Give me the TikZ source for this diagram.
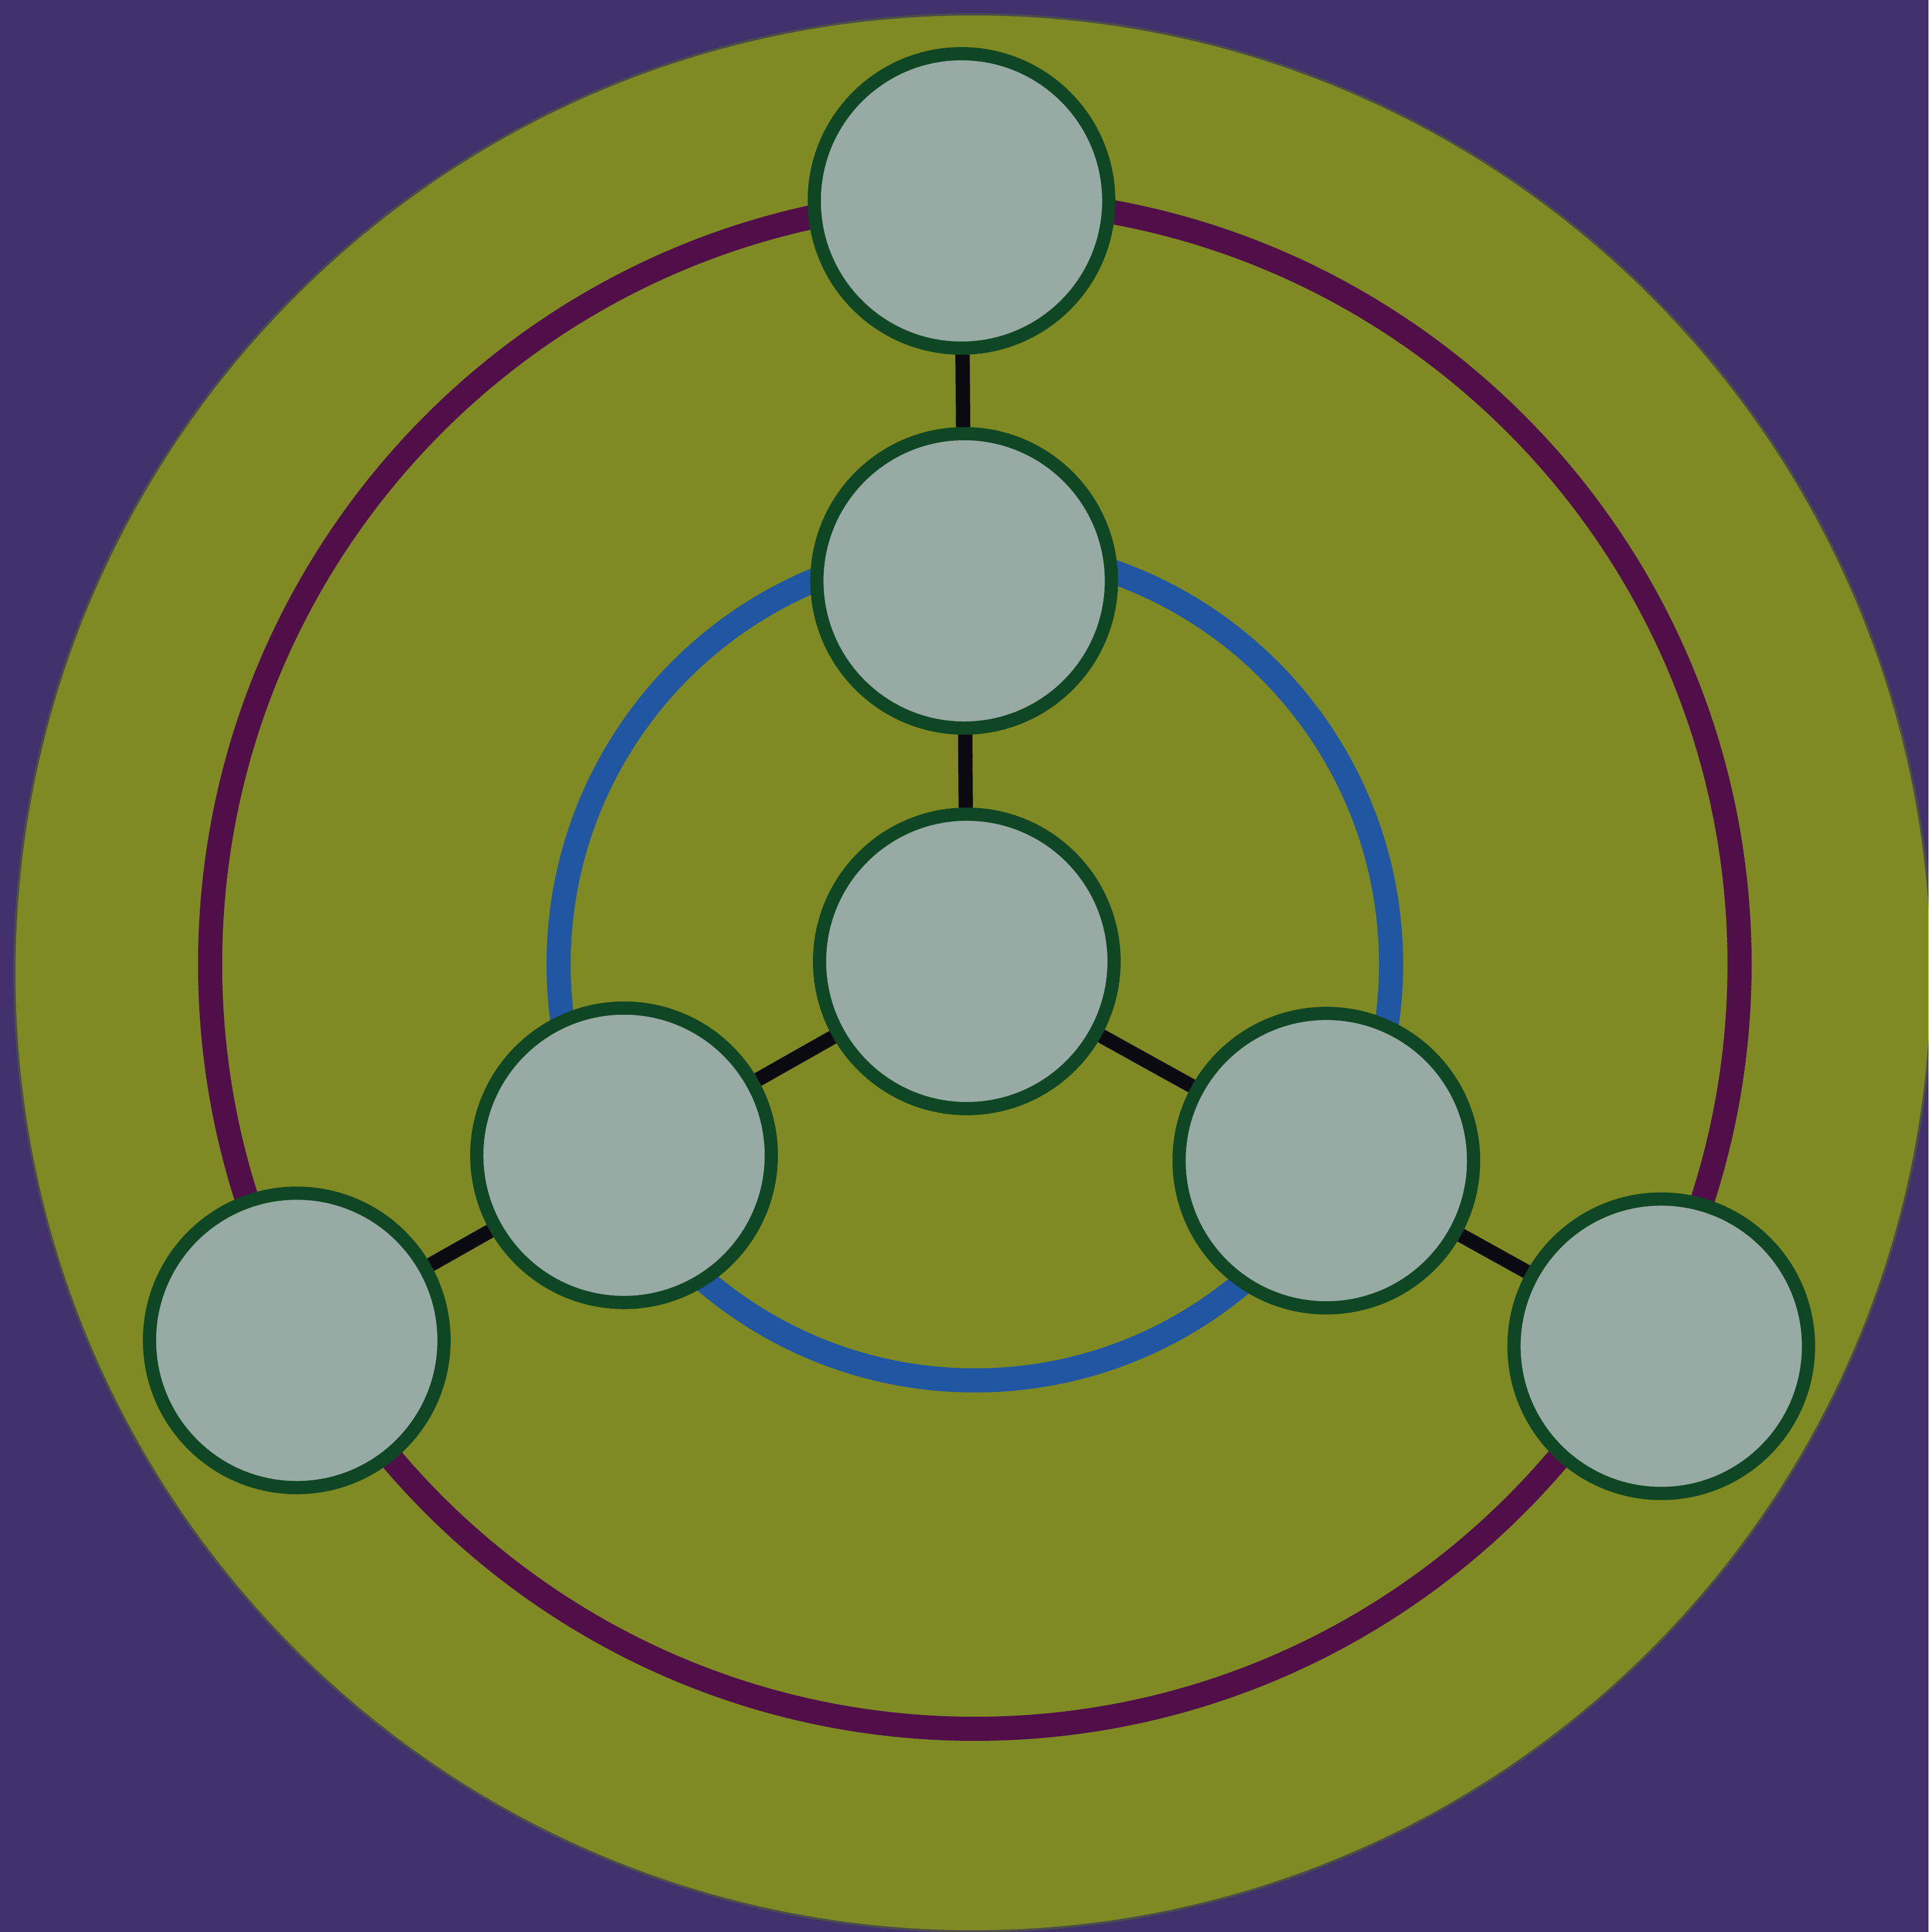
\documentclass[tikz,border=0pt]{standalone}
\usetikzlibrary{positioning}
\usetikzlibrary{calc}

\definecolor{bgpurple}{HTML}{40306C}
\definecolor{diskolive}{HTML}{808A22}
\definecolor{ringpurple}{HTML}{500F48}
\definecolor{ringblue}{HTML}{2156A2}
\definecolor{discgray}{HTML}{98AAA4}
\definecolor{discgreen}{HTML}{0F4724}
\definecolor{bondblack}{HTML}{0A0A10}

\begin{document}
\begin{tikzpicture}[disc/.style={circle, draw=discgreen, fill=discgray, line width=0.23cm, minimum size=5.13cm, inner sep=0pt},
    bond/.style={draw=bondblack, line width=0.25cm}]

      % Canvas
      \useasboundingbox (0,0) rectangle (33.59,33.66);
      \clip (0,0) rectangle (33.59,33.66);
      \fill[bgpurple] (0,0) rectangle (33.59,33.66);

      % Big disk
      \filldraw[fill=diskolive, draw=black!70, line width=0.04cm] (16.95,16.71) circle (16.70);

      % Common centre of the two rings
      \coordinate (o) at (16.98,16.86);
      \draw[ringpurple, line width=0.42cm] (o) circle (13.32);
      \draw[ringblue, line width=0.42cm] (o) circle (7.25);

      % Centre node
      \node[disc] (hub) at (16.84,16.91) {};

      % Three branches: inner node m\i and outer node e\i
      \foreach \i/\a/\r/\R in {1/90.4/6.63/13.25, 2/209.5/6.86/13.41, 3/331/7.16/13.83} {
        \node[disc] (m\i) at ([shift={(\a:\r)}] hub) {};
        \node[disc] (e\i) at ([shift={(\a:\R)}] hub) {};
        \draw[bond] (hub) -- (m\i);
        \draw[bond] (m\i) -- (e\i);
      }

    \end{tikzpicture}
\end{document}
